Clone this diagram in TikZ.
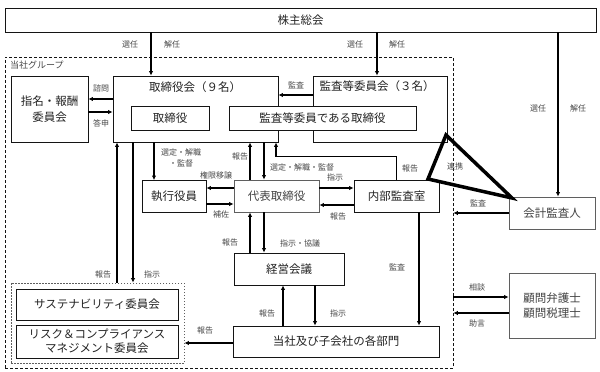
\documentclass[tikz,border=0pt]{standalone}
\usepackage{fontspec}
\newfontfamily\jp{Noto Sans CJK JP}
\usetikzlibrary{calc,arrows.meta}
\definecolor{ink}{RGB}{35,35,35}
\definecolor{frame}{RGB}{20,20,20}
\definecolor{soft}{RGB}{95,95,95}
\definecolor{note}{RGB}{70,70,70}
\tikzset{
  box/.style={draw=frame,line width=.9pt,fill=white,text=ink,inner sep=0pt,align=center,
    font=\jp\fontsize{11.5}{15}\selectfont},
  softbox/.style={box,draw=soft,text=soft!70!black},
  ttl/.style={text=ink,inner sep=0pt,font=\jp\fontsize{11.5}{15}\selectfont},
  tag/.style={text=note,inner sep=0pt,align=center,font=\jp\fontsize{8}{11}\selectfont},
  arr/.style={line width=1.4pt,-{Latex[length=4.5pt,width=4.5pt]}},
}

\begin{document}
\begin{tikzpicture}[x=1pt,y=-1pt,line join=miter]
\useasboundingbox (0,0) rectangle (600,372);
\node[draw=frame,line width=.7pt,dash pattern=on 3pt off 2pt,minimum width=448pt,minimum height=311pt,inner sep=0pt] (group) at (229,212.5) {};
\node[anchor=west,inner sep=0pt,text=note,font=\jp\fontsize{9}{11}\selectfont] (grouplbl) at (10,65) {当社グループ};
\node[draw=soft,line width=.8pt,dash pattern=on 1.5pt off 1.5pt,minimum width=173pt,minimum height=80pt,inner sep=0pt] (comm) at (97.5,323) {};

\node[box,minimum width=591pt,minimum height=24pt] (gm) at (300.5,20) {株主総会};
\node[box,minimum width=165pt,minimum height=66pt] (board) at (195.5,109) {};
\node[ttl] (boardttl) at (195,87) {取締役会（９名）};
\node[box,minimum width=134pt,minimum height=66pt] (audcom) at (380,109) {};
\node[ttl] (audcomttl) at (377,86) {監査等委員会（３名）};
\node[box,minimum width=78pt,minimum height=24pt] (dir) at (170,118) {取締役};
\node[box,minimum width=187pt,minimum height=24pt] (auddir) at (322.5,118) {監査等委員である取締役};
\node[box,minimum width=77pt,minimum height=66pt,font=\jp\fontsize{11.5}{16}\selectfont] (nomcom) at (49.5,109) {指名・報酬\\委員会};
\node[box,minimum width=64pt,minimum height=32pt] (exec) at (174,196.5) {執行役員};
\node[softbox,minimum width=85pt,minimum height=32pt] (rep) at (276.5,196) {代表取締役};
\node[box,minimum width=85pt,minimum height=32pt] (ia) at (396.5,196) {内部監査室};
\node[softbox,minimum width=86pt,minimum height=32pt] (acct) at (552,213) {会計監査人};
\node[box,minimum width=110pt,minimum height=32pt] (mgmt) at (289,269) {経営会議};
\node[box,minimum width=206pt,minimum height=31pt] (dept) at (336,341.5) {当社及び子会社の各部門};
\node[softbox,minimum width=86pt,minimum height=65pt,font=\jp\fontsize{11.5}{15}\selectfont] (advisor) at (552,305.5) {顧問弁護士\\顧問税理士};
\node[box,minimum width=162pt,minimum height=31pt] (sus) at (97,304.5) {サステナビリティ委員会};
\node[box,minimum width=162pt,minimum height=33pt,font=\jp\fontsize{11.5}{14}\selectfont] (risk) at (97,341.5) {リスク＆コンプライアンス\\マネジメント委員会};

\draw[arr] (gm.south -| 151,0) -- (board.north -| 151,0);
\node[tag] (sel1) at (130,44) {選任};
\node[tag] (dis1) at (172,44) {解任};
\draw[arr] (gm.south -| 377,0) -- (audcom.north -| 377,0);
\node[tag] (sel2) at (355,44) {選任};
\node[tag] (dis2) at (397,44) {解任};
\draw[arr] (gm.south -| 558,0) -- (acct.north -| 558,0);
\node[tag] (sel3) at (538,108) {選任};
\node[tag] (dis3) at (578,108) {解任};

\draw[arr] (board.west |- 0,99) -- (nomcom.east |- 0,99);
\node[tag] (ask) at (101,88) {諮問};
\draw[arr] (nomcom.east |- 0,112) -- (board.west |- 0,112);
\node[tag] (answer) at (101,123) {答申};
\draw[arr] (audcom.west |- 0,95) -- (board.east |- 0,95);
\node[tag] (aud1) at (296,85) {監査};

\draw[arr] (board.south -| 154,0) -- (exec.north -| 154,0);
\node[tag] (sel4) at (181,157.5) {選定・解職\\・監督};
\draw[arr] (rep.north -| 250,0) -- (board.south -| 250,0);
\node[tag] (rep1) at (240,156) {報告};
\draw[arr] (board.south -| 264,0) -- (rep.north -| 264,0);
\node[tag] (sel5) at (302,167) {選定・解職・監督};
\draw[arr] (ia.north) -- ++(0,-23) -| (board.south -| 276,0);
\node[tag] (rep2) at (410,168) {報告};

\draw[arr] (rep.west |- 0,188) -- (exec.east |- 0,188);
\node[tag] (deleg) at (216,175) {権限移譲};
\draw[arr] (exec.east |- 0,204) -- (rep.west |- 0,204);
\node[tag] (assist) at (221,214) {補佐};
\draw[arr] (rep.east |- 0,188) -- (ia.west |- 0,188);
\node[tag] (ins1) at (335,177) {指示};
\draw[arr] (ia.west |- 0,205) -- (rep.east |- 0,205);
\node[tag] (rep3) at (338,216) {報告};

\draw[arr] (mgmt.north -| 250,0) -- (rep.south -| 250,0);
\node[tag] (rep4) at (230,242) {報告};
\draw[arr] (rep.south -| 264,0) -- (mgmt.north -| 264,0);
\node[tag] (insco) at (300,243) {指示・協議};
\draw[arr] (dept.north -| 283,0) -- (mgmt.south -| 283,0);
\node[tag] (rep5) at (267,313) {報告};
\draw[arr] (mgmt.south -| 315,0) -- (dept.north -| 315,0);
\node[tag] (ins2) at (338,313) {指示};
\draw[arr] (ia.south -| 419,0) -- (dept.north -| 419,0);
\node[tag] (aud2) at (397,267) {監査};

\draw[arr] (comm.north -| 117,0) -- (board.south -| 117,0);
\node[tag] (rep6) at (103,274) {報告};
\draw[arr] (board.south -| 133,0) -- (comm.north -| 133,0);
\node[tag] (ins3) at (152,274) {指示};
\draw[arr] (dept.west |- 0,343) -- (comm.east |- 0,343);
\node[tag] (rep7) at (205,330) {報告};

\draw[arr] (acct.west |- 0,213) -- (group.east |- 0,213);
\node[tag] (aud3) at (478,203) {監査};
\draw[arr] (group.east |- 0,297) -- (advisor.west |- 0,297);
\node[tag] (consult) at (477,287) {相談};
\draw[arr] (advisor.west |- 0,313) -- (group.east |- 0,313);
\node[tag] (advice) at (477,323) {助言};

\coordinate (tri1) at (446,135);
\coordinate (tri2) at (428,179);
\coordinate (tri3) at (512,198);
\draw[line width=3.5pt] (tri1) -- (tri2) -- (tri3) -- cycle;
\node[tag] (link) at (455,166) {連携};
\end{tikzpicture}
\end{document}
